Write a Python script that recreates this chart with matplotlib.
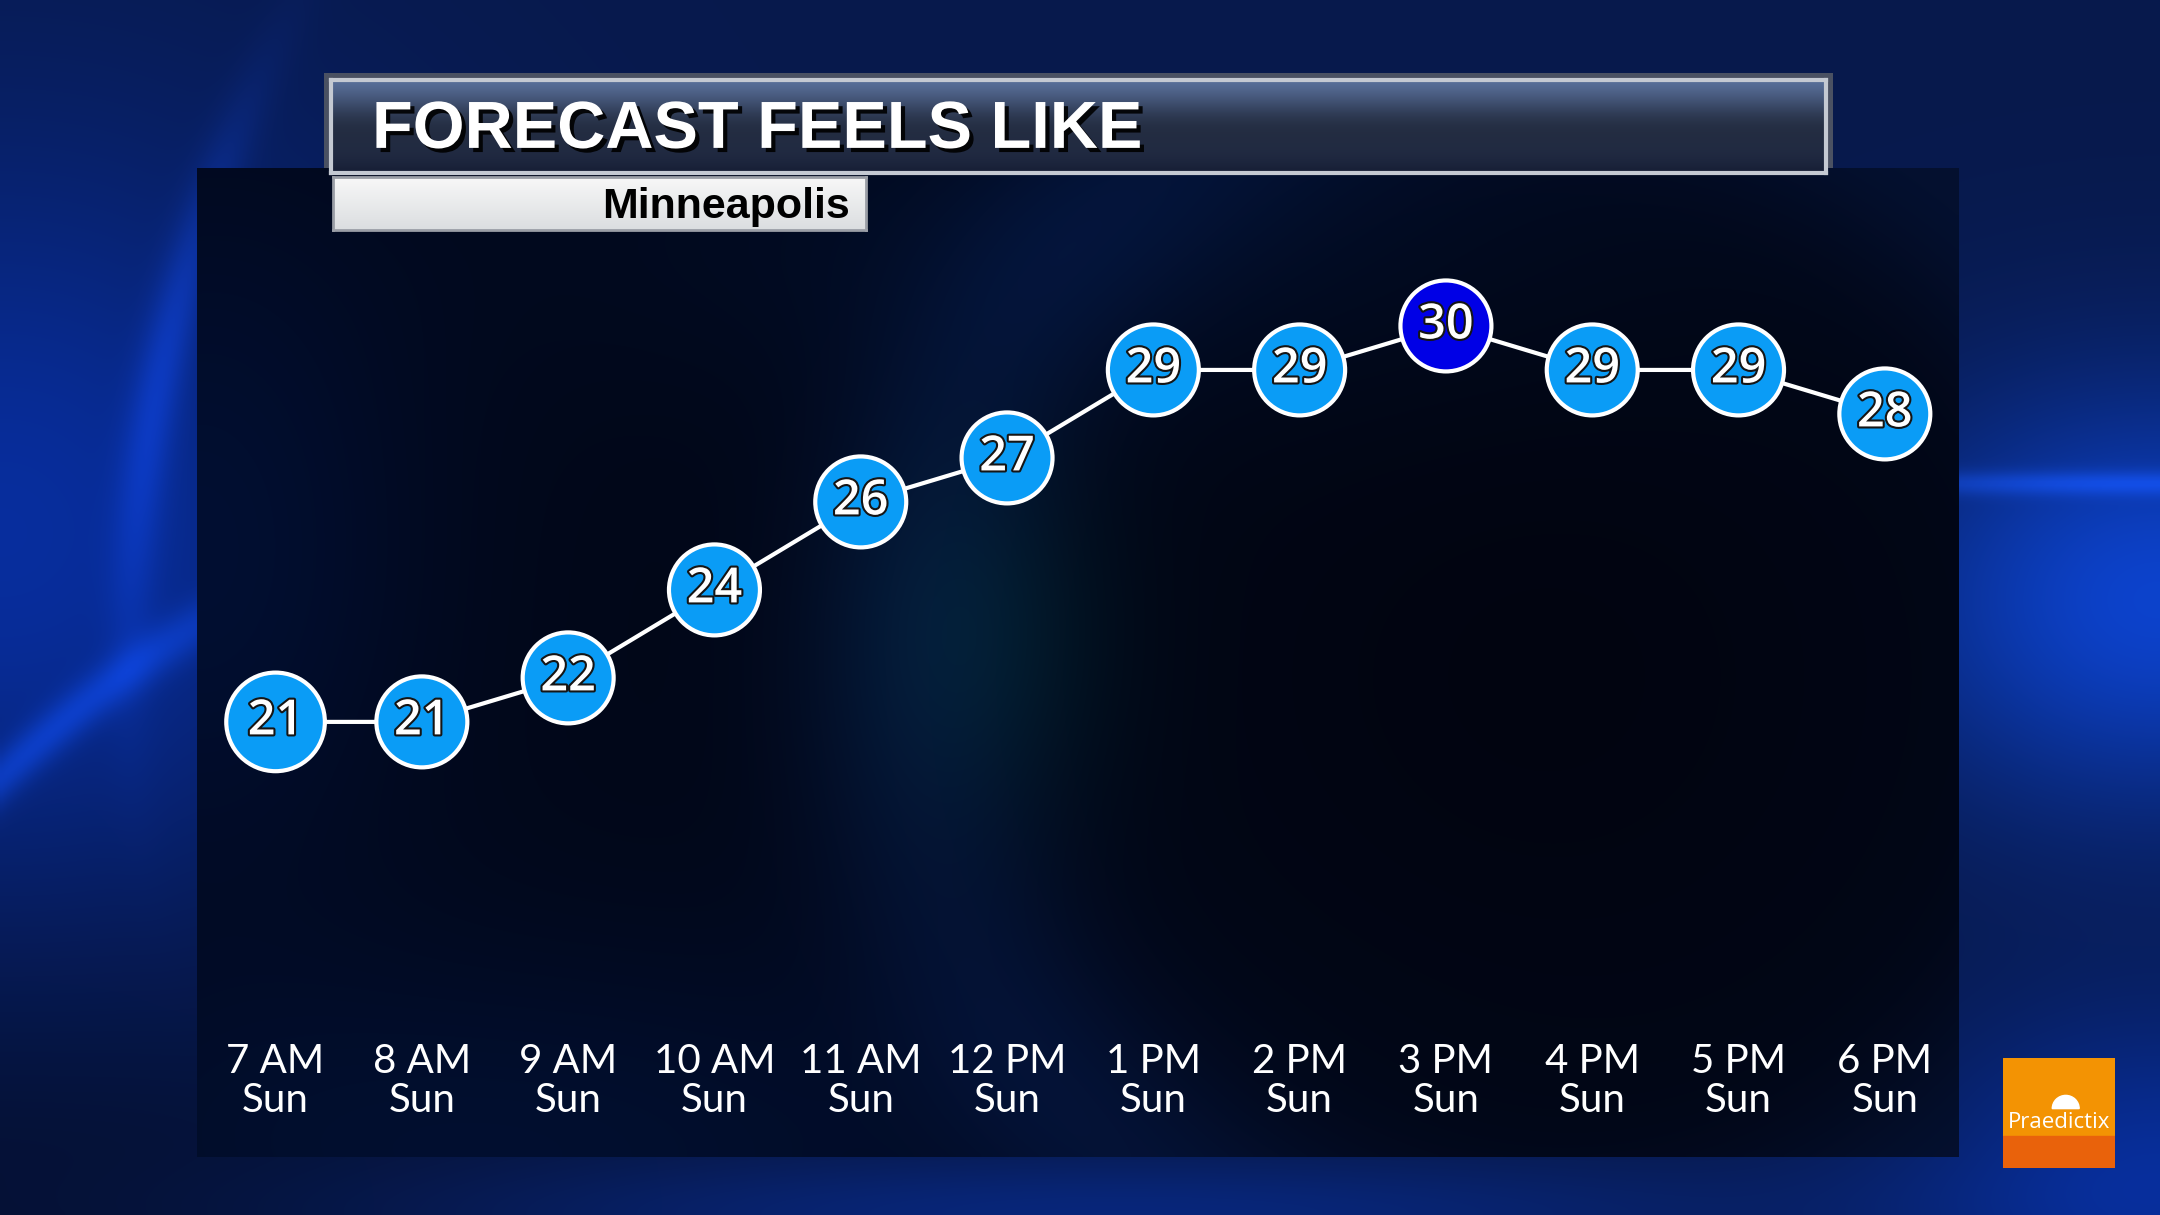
import numpy as np
import matplotlib.pyplot as plt
import matplotlib.patheffects as pe
from matplotlib.patches import Rectangle, Wedge
from matplotlib.transforms import blended_transform_factory

# data
hours = ["7 AM", "8 AM", "9 AM", "10 AM", "11 AM", "12 PM",
         "1 PM", "2 PM", "3 PM", "4 PM", "5 PM", "6 PM"]
days = ["Sun"] * 12
feels_like = [21, 21, 22, 24, 26, 27, 29, 29, 30, 29, 29, 28]

title = "FORECAST FEELS LIKE"
city = "Minneapolis"

W, H = 2160, 1215
fig = plt.figure(figsize=(W / 100, H / 100), dpi=100)


def rect(x0, y0, x1, y1):
    # pixel box (top-left origin) -> figure fraction
    return [x0 / W, 1 - y1 / H, (x1 - x0) / W, (y1 - y0) / H]


def glow(px, py, cx, cy, sx, sy):
    return np.exp(-(((px - cx) / sx) ** 2 + ((py - cy) / sy) ** 2) / 2)


# outer blue backdrop, worked out in pixel units
px, py = np.meshgrid(np.linspace(0, W, 540), np.linspace(0, H, 304))
bg = np.zeros(px.shape + (3,)) + [0.03, 0.10, 0.30]
bg += glow(px, py, 0, 540, 280, 280)[..., None] * [0.0, 0.08, 0.32]
bg -= glow(px, py, 0, 1215, 400, 250)[..., None] * [0.01, 0.04, 0.12]
bend = 778 - 0.95 * px + 0.0009 * px ** 2
band = (py - bend) / 28
bg += (np.exp(-band ** 2) * glow(px, py, 0, 700, 260, 400))[..., None] * [0.02, 0.09, 0.26]
bg += glow(px, py, 2160, 600, 200, 150)[..., None] * [0.02, 0.16, 0.50]
streak = np.exp(-((py - 483) / 12) ** 2) * glow(px, py, 2100, 483, 250, 500)
bg += streak[..., None] * [0.03, 0.09, 0.24]
bg += glow(px, py, 2160, 1180, 180, 120)[..., None] * [0.0, 0.08, 0.30]
bg += glow(px, py, 1100, 1215, 500, 40)[..., None] * [0.0, 0.05, 0.18]
ring = np.hypot(px - 1547, py - 675)
bg += (np.exp(-((ring - 1420) / 25) ** 2) * glow(px, py, 150, 350, 120, 200))[..., None] * [0.02, 0.07, 0.22]

ax_bg = fig.add_axes([0, 0, 1, 1])
ax_bg.imshow(np.clip(bg, 0, 1), extent=[0, 1, 0, 1], aspect="auto",
             interpolation="bilinear")
ax_bg.axis("off")
# outer frames of the two banners
ax_bg.add_patch(Rectangle((324 / W, 1 - 180 / H), (1833 - 324) / W, (180 - 73) / H,
                          transform=fig.transFigure, facecolor="#4a5162",
                          edgecolor="none"))
ax_bg.add_patch(Rectangle((324 / W, 1 - 236 / H), (874 - 324) / W, (236 - 172) / H,
                          transform=fig.transFigure, facecolor="#4f5563",
                          edgecolor="none"))

# dark chart panel
ax = fig.add_axes(rect(197, 168, 1959, 1157))
qx, qy = np.meshgrid(np.linspace(197, 1959, 440), np.linspace(168, 1157, 250))
pn = np.zeros(qx.shape + (3,)) + [0.006, 0.028, 0.095]
r = np.hypot(qx - 1547, qy - 675)
pn += np.exp(-((r - 640) / 120) ** 2)[..., None] * [0.01, 0.035, 0.09]
pn -= np.exp(-(r / 420) ** 2)[..., None] * [0.0, 0.01, 0.03]
pn += glow(qx, qy, 985, 640, 90, 130)[..., None] * [0.0, 0.07, 0.06]
pn += glow(qx, qy, 197, 550, 160, 250)[..., None] * [0.0, 0.03, 0.10]
pn += glow(qx, qy, 500, 1157, 400, 150)[..., None] * [0.0, 0.03, 0.09]
pn += glow(qx, qy, 1100, 240, 400, 120)[..., None] * [0.0, 0.02, 0.05]

x = np.arange(len(feels_like))
ax.set_xlim(-0.537, 11.507)
ax.set_ylim(11.11, 33.59)
ax.imshow(np.clip(pn, 0, 1), extent=[-0.537, 11.507, 11.11, 33.59],
          aspect="auto", interpolation="bilinear", zorder=0)
ax.axis("off")

hi = max(feels_like)
colors = ["#0000e6" if t == hi else "#0a9cf6" for t in feels_like]
sizes = [71 ** 2 if i == 0 else 65.5 ** 2 for i in range(len(feels_like))]

ax.plot(x, feels_like, color="white", lw=3, zorder=2)
ax.scatter(x, feels_like, s=sizes, c=colors, edgecolors="white",
           linewidths=3, zorder=3)
for xi, t in zip(x, feels_like):
    ax.text(xi, t, str(t), ha="center", va="center", color="white",
            fontsize=35, fontweight="semibold", family=["Open Sans", "DejaVu Sans"],
            zorder=4,
            path_effects=[pe.Stroke(linewidth=3, foreground="#151515"), pe.Normal()])

tr = blended_transform_factory(ax.transData, ax.transAxes)
for xi, hname, d in zip(x, hours, days):
    ax.text(xi, 0.097, hname, transform=tr, ha="center", va="center",
            color="white", fontsize=29, family=["Lato", "DejaVu Sans"])
    ax.text(xi, 0.057, d, transform=tr, ha="center", va="center",
            color="white", fontsize=29, family=["Lato", "DejaVu Sans"])

# title banner
grad = np.linspace(0, 1, 64)[:, None, None]
ax_t = fig.add_axes(rect(331, 80, 1826, 173))
tcol = np.array([0.36, 0.45, 0.62]) * (1 - grad) + np.array([0.09, 0.12, 0.21]) * grad
tcol = tcol * (1 - 0.35 * np.exp(-((grad - 0.5) / 0.3) ** 2))
tcol = np.repeat(tcol, 2, axis=1)
ax_t.imshow(np.clip(tcol, 0, 1), extent=[0, 1, 0, 1], aspect="auto",
            interpolation="bilinear")
ax_t.set_xticks([])
ax_t.set_yticks([])
for s in ax_t.spines.values():
    s.set_color("#c4c9d2")
    s.set_linewidth(3)
ax_t.text(41 / 1495, 0.27, title, transform=ax_t.transAxes, ha="left",
          va="baseline", color="white", fontsize=48, fontweight="bold",
          family=["Liberation Sans", "DejaVu Sans"],
          path_effects=[pe.SimplePatchShadow(offset=(3, -3), shadow_rgbFace="black",
                                             alpha=0.9), pe.Normal()])

ax_c = fig.add_axes(rect(333, 177, 866, 230))
ccol = np.array([0.97, 0.97, 0.97]) * (1 - grad) + np.array([0.86, 0.87, 0.88]) * grad
ccol = np.repeat(ccol, 2, axis=1)
ax_c.imshow(ccol, extent=[0, 1, 0, 1], aspect="auto", interpolation="bilinear")
ax_c.set_xticks([])
ax_c.set_yticks([])
for s in ax_c.spines.values():
    s.set_color("#9a9ea6")
    s.set_linewidth(2)
ax_c.text(0.97, 0.22, city, transform=ax_c.transAxes, ha="right", va="baseline",
          color="black", fontsize=31, fontweight="bold",
          family=["Liberation Sans", "DejaVu Sans"])

# logo
ax_l = fig.add_axes(rect(2003, 1058, 2115, 1168))
ax_l.set_xlim(0, 1)
ax_l.set_ylim(0, 1)
ax_l.add_patch(Rectangle((0, 0.29), 1, 0.71, color="#f39303"))
ax_l.add_patch(Rectangle((0, 0), 1, 0.29, color="#e9620b"))
ax_l.add_patch(Wedge((0.56, 0.54), 0.12, 0, 180, color="white"))
ax_l.text(0.5, 0.41, "Praedictix", ha="center", va="center", color="white",
          fontsize=16, family=["Open Sans", "DejaVu Sans"])
ax_l.axis("off")

fig.savefig("out.png", dpi=100)
